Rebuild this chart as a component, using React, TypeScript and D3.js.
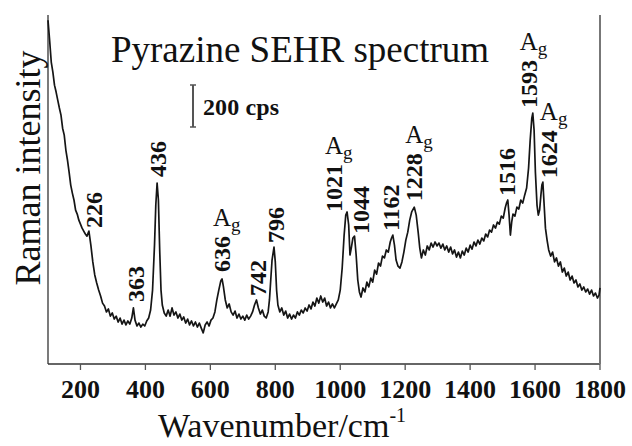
import React from "react";
import * as d3 from "d3";

// Spectrum: wavenumber (cm^-1) and intensity (cps, arbitrary offset)
const wavenumbers: number[] = [
  100,105,110,115,120,125,130,135,140,145,150,155,160,165,170,175,180,185,190,195,200,205,210,215,220,226,232,238,244,250,256,262,268,274,280,286,292,298,304,310,316,322,328,334,340,346,352,358,363,368,374,380,386,392,398,404,410,416,422,428,432,436,440,444,448,452,458,464,470,476,482,488,494,500,506,512,518,524,530,536,542,548,554,560,566,572,578,584,590,596,602,608,614,620,626,632,636,640,646,652,658,664,670,676,682,688,694,700,706,712,718,724,730,736,742,748,754,760,766,772,778,782,786,790,796,800,804,808,814,820,826,832,838,844,850,856,862,868,874,880,886,892,898,904,910,916,922,928,934,940,946,952,958,964,970,976,982,988,994,1000,1006,1012,1017,1021,1026,1030,1034,1039,1044,1049,1054,1059,1064,1070,1076,1082,1088,1094,1100,1106,1112,1118,1124,1130,1136,1142,1148,1154,1158,1162,1167,1172,1178,1184,1190,1196,1202,1208,1214,1220,1228,1234,1240,1245,1250,1256,1262,1268,1274,1280,1286,1292,1298,1304,1310,1316,1322,1328,1334,1340,1346,1352,1358,1364,1370,1376,1382,1388,1394,1400,1406,1412,1418,1424,1430,1436,1442,1448,1454,1460,1466,1472,1478,1484,1490,1496,1502,1508,1512,1516,1520,1524,1528,1532,1538,1544,1550,1556,1562,1568,1574,1580,1585,1590,1593,1597,1601,1606,1610,1614,1618,1621,1624,1628,1632,1637,1642,1648,1654,1660,1666,1672,1678,1684,1690,1696,1702,1708,1714,1720,1726,1732,1738,1744,1750,1756,1762,1768,1774,1780,1786,1792,1797,1800
];
const intensities: number[] = [
  1637,1542,1438,1390,1328,1295,1257,1219,1185,1123,1090,1019,971,914,852,814,781,733,714,685,666,647,633,619,609,633,566,486,424,386,352,324,290,276,248,262,228,243,214,228,200,219,190,209,186,205,190,219,267,209,181,195,176,190,181,205,219,257,352,566,757,862,781,543,352,281,243,228,257,228,267,233,248,219,238,209,224,195,214,186,205,181,200,176,195,171,148,186,200,181,209,219,248,305,352,395,405,371,305,267,286,248,233,252,219,238,214,228,209,233,214,228,248,281,305,267,238,257,228,219,248,305,400,495,557,486,352,281,248,267,233,252,219,238,214,233,219,248,233,257,243,267,252,281,262,295,276,314,290,324,295,314,276,295,267,286,267,286,305,352,457,614,709,724,662,519,552,600,609,519,400,343,319,362,343,390,367,409,390,447,428,481,466,514,505,543,533,581,600,614,566,495,466,457,486,533,590,628,685,724,747,709,628,552,505,543,519,562,543,576,557,581,562,576,552,571,543,562,533,557,524,543,509,533,505,538,519,552,533,566,547,581,562,590,571,600,586,619,605,638,628,662,647,676,666,704,695,743,766,781,709,614,676,714,704,747,738,781,766,804,838,933,1066,1171,1195,1114,914,757,709,733,804,852,866,757,647,590,543,514,533,486,505,466,486,438,457,419,438,400,419,386,400,367,381,352,367,343,357,333,352,324,338,314,328,362
];

const xTicks: number[] = [200, 400, 600, 800, 1000, 1200, 1400, 1600, 1800];
const peakLabels: string[] = ["226", "363", "436", "636", "742", "796", "1021", "1044", "1162", "1228", "1516", "1593", "1624"];
const agPeaks: string[] = ["636", "1021", "1228", "1593", "1624"];
const scaleBarCps = 200;

// layout
const W = 632, H = 446;
const left = 48, right = 600, top = 15, bottom = 364;
const labelNudgeX: Record<string, number> = {
  "226": 5, "363": 2, "436": 1, "636": 0, "742": 1, "796": 2, "1021": -13,
  "1044": 6, "1162": -2, "1228": 0, "1516": -1, "1593": -4, "1624": 6,
};
const labelGap: Record<string, number> = {
  "226": 3, "363": 6, "436": 6, "636": 7, "742": 4, "796": 4, "1021": 0,
  "1044": 2, "1162": 4, "1228": 6, "1516": 4, "1593": 5, "1624": 4,
};

const serif = "Liberation Serif";
const fs = (size: number, bold = false): React.CSSProperties => ({
  fontFamily: serif, fontSize: size, fontWeight: bold ? 700 : 400,
});

export default function App() {
  const x = d3.scaleLinear().domain([100, 1800]).range([left, right]);
  const y = d3.scaleLinear().domain([0, 1662]).range([bottom, top]);
  const pts: [number, number][] = wavenumbers.map((w, i) => [w, intensities[i]]);
  const line = d3.line<[number, number]>().x(d => x(d[0])).y(d => y(d[1]));

  const valueAt = (w: number) => {
    let best = 0;
    let bd = Infinity;
    wavenumbers.forEach((v, i) => {
      const dd = Math.abs(v - w);
      if (dd < bd) { bd = dd; best = i; }
    });
    return intensities[best];
  };

  const digitLen = 12;
  const scaleX = 193;
  const scaleTop = 85;
  const scaleBottom = scaleTop + (y(0) - y(scaleBarCps));

  return (
    <svg width={W} height={H} style={{ position: "absolute", left: 0, top: 0, background: "#fff" }}>
      <rect x={0} y={0} width={W} height={H} fill="#fff" />
      {/* axes */}
      <line x1={left} y1={top} x2={left} y2={bottom} stroke="#333" strokeWidth={1.3} />
      <line x1={left} y1={bottom} x2={right} y2={bottom} stroke="#333" strokeWidth={1.3} />
      <line x1={right} y1={top} x2={right} y2={bottom} stroke="#777" strokeWidth={2} />
      {xTicks.map(t => (
        <g key={t}>
          <line x1={x(t)} x2={x(t)} y1={bottom} y2={bottom + 6} stroke="#555" strokeWidth={1.3} />
          <text x={x(t)} y={398} textAnchor="middle" style={fs(26, true)} fill="#111">{t}</text>
        </g>
      ))}
      {/* spectrum */}
      <path d={line(pts) || ""} fill="none" stroke="#151515" strokeWidth={1.7} strokeLinejoin="round" />

      {/* peak labels */}
      {peakLabels.map(p => {
        const w = +p;
        const lx = x(w) + labelNudgeX[p];
        const ly = y(valueAt(w)) - labelGap[p];
        return (
          <text key={p} transform={`translate(${lx},${ly}) rotate(-90)`} dy="0.34em"
            style={fs(24, true)} fill="#111">{p}</text>
        );
      })}
      {agPeaks.map(p => {
        const w = +p;
        const lx = x(w) + labelNudgeX[p] - 9;
        const ly = y(valueAt(w)) - labelGap[p] - p.length * digitLen - 10;
        return (
          <text key={"ag" + p} x={lx} y={ly} style={fs(25)} fill="#111">
            A<tspan style={fs(19)} dy={5}>g</tspan>
          </text>
        );
      })}

      {/* scale bar */}
      <line x1={scaleX} x2={scaleX} y1={scaleTop} y2={scaleBottom} stroke="#555" strokeWidth={2} />
      <line x1={scaleX - 3} x2={scaleX + 3} y1={scaleTop} y2={scaleTop} stroke="#555" strokeWidth={1.5} />
      <line x1={scaleX - 3} x2={scaleX + 3} y1={scaleBottom} y2={scaleBottom} stroke="#555" strokeWidth={1.5} />
      <text x={203} y={115} style={fs(24, true)} fill="#111" textLength={76}>{scaleBarCps} cps</text>

      {/* title */}
      <text x={300} y={62} textAnchor="middle" style={fs(37)} fill="#111">Pyrazine SEHR spectrum</text>

      {/* axis titles */}
      <text transform={`translate(40,168) rotate(-90)`} textAnchor="middle" style={fs(36)} fill="#111">Raman intensity</text>
      <text x={158} y={437} style={fs(34)} fill="#111">Wavenumber/cm<tspan style={fs(20)} dy={-15}>-1</tspan></text>
    </svg>
  );
}
